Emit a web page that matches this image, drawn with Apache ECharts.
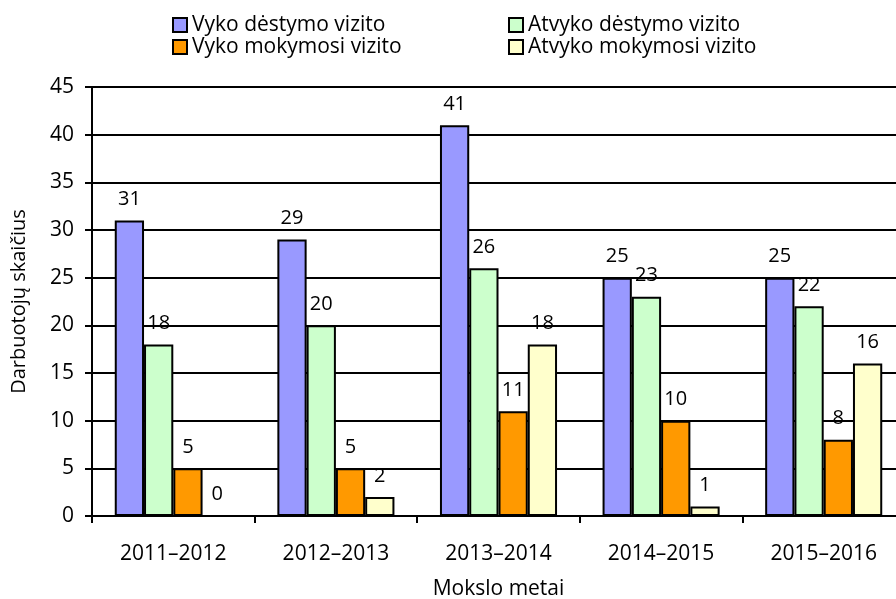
<!DOCTYPE html>
<html>
<head>
<meta charset="utf-8">
<script src="https://cdn.jsdelivr.net/npm/echarts@6/dist/echarts.min.js"></script>
<style>
  html, body { margin: 0; padding: 0; background: #fff; }
  #chart { width: 896px; height: 599px; }
</style>
</head>
<body>
<div id="chart"></div>
<script>
// duomenys
const years = ['2011–2012', '2012–2013', '2013–2014', '2014–2015', '2015–2016']
const vykoDestymo = [31, 29, 41, 25, 25]
const atvykoDestymo = [18, 20, 26, 23, 22]
const vykoMokymosi = [5, 5, 11, 10, 8]
const atvykoMokymosi = [0, 2, 18, 1, 16]

const FONT = 'Open Sans'
const FS = 21

const chart = echarts.init(document.getElementById('chart'))

function bar(name, data, color) {
  return {
    name: name,
    type: 'bar',
    data: data,
    barGap: 0,
    barCategoryGap: '28%',
    itemStyle: { color: color, borderColor: '#000', borderWidth: 2 },
    label: {
      show: true,
      position: 'top',
      distance: 11,
      color: '#000',
      fontFamily: FONT,
      fontSize: 20
    },
    emphasis: { disabled: true }
  }
}

const legendBase = {
  orient: 'vertical',
  padding: 0,
  itemWidth: 14,
  itemHeight: 14,
  itemGap: 0,
  icon: 'rect',
  textStyle: { color: '#000', fontFamily: FONT, fontSize: FS, lineHeight: 22 },
  itemStyle: { borderColor: '#000', borderWidth: 2 }
}

chart.setOption({
  animation: false,
  textStyle: { fontFamily: FONT },
  legend: [
    Object.assign({}, legendBase, { left: 172, top: 14, data: ['Vyko dėstymo vizito', 'Vyko mokymosi vizito'] }),
    Object.assign({}, legendBase, { left: 508, top: 14, data: ['Atvyko dėstymo vizito', 'Atvyko mokymosi vizito'] })
  ],
  // grafikas išeina už dešinio krašto, todėl outerBoundsMode išjungtas
  grid: { left: 92, width: 813, top: 87, bottom: 83, outerBoundsMode: 'none', containLabel: false },
  xAxis: {
    type: 'category',
    data: years,
    name: 'Mokslo metai',
    nameLocation: 'middle',
    nameGap: 63,
    nameTextStyle: { color: '#000', fontSize: FS, fontFamily: FONT },
    axisLine: { lineStyle: { color: '#000', width: 2 } },
    axisTick: { show: true, length: 7, lineStyle: { color: '#000', width: 2 } },
    axisLabel: { color: '#000', fontSize: FS, fontFamily: FONT, margin: 28 }
  },
  yAxis: {
    type: 'value',
    min: 0,
    max: 45,
    interval: 5,
    name: 'Darbuotojų skaičius',
    nameLocation: 'middle',
    nameGap: 63,
    nameTextStyle: { color: '#000', fontSize: 20, fontFamily: FONT },
    axisLine: { show: true, lineStyle: { color: '#000', width: 2 } },
    axisTick: { show: true, length: 7, lineStyle: { color: '#000', width: 2 } },
    axisLabel: { color: '#000', fontSize: FS, fontFamily: FONT, margin: 18 },
    splitLine: { show: true, lineStyle: { color: '#000', width: 2 } }
  },
  series: [
    bar('Vyko dėstymo vizito', vykoDestymo, '#9999FF'),
    bar('Atvyko dėstymo vizito', atvykoDestymo, '#CCFFCC'),
    bar('Vyko mokymosi vizito', vykoMokymosi, '#FF9900'),
    bar('Atvyko mokymosi vizito', atvykoMokymosi, '#FFFFCC')
  ]
})
</script>
</body>
</html>
